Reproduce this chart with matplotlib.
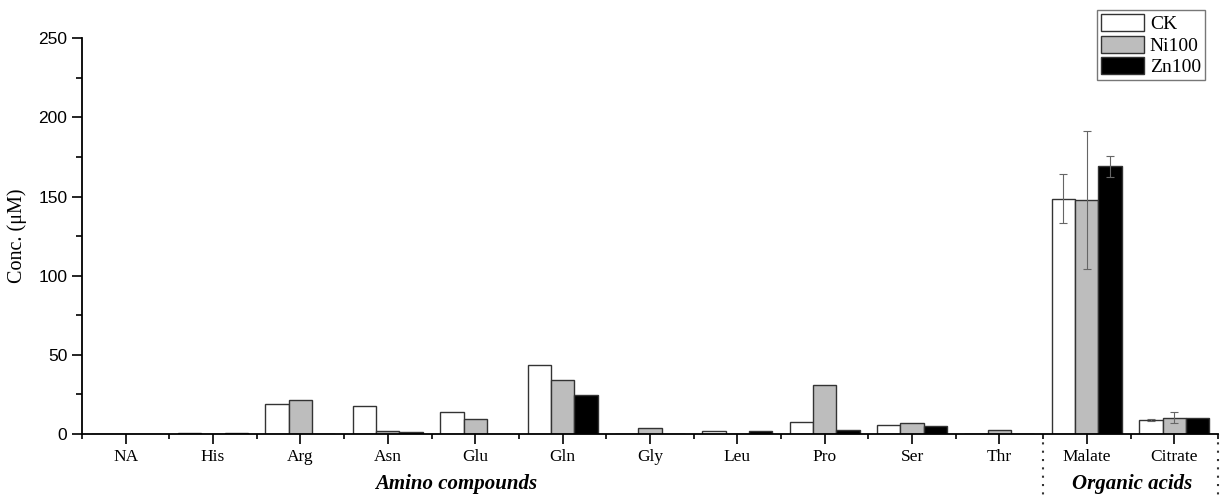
import matplotlib.pyplot as plt
import numpy as np

categories = ["NA", "His", "Arg", "Asn", "Glu", "Gln", "Gly", "Leu", "Pro", "Ser", "Thr", "Malate", "Citrate"]
ck = [0.3, 0.8, 19.0, 18.0, 14.0, 43.7, 0.3, 1.8, 7.6, 5.7, 0.3, 148.5, 8.9]
ni100 = [0.3, 0.3, 21.5, 2.0, 9.7, 34.2, 3.5, 0.3, 31.0, 6.8, 2.8, 147.9, 10.4]
zn100 = [0.3, 0.7, 0.0, 1.5, 0.3, 24.8, 0.3, 1.8, 2.5, 4.9, 0.3, 169.0, 10.3]
ck_err = [0, 0, 0, 0, 0, 0, 0, 0, 0, 0, 0, 15.5, 0.7]
ni_err = [0, 0, 0, 0, 0, 0, 0, 0, 0, 0, 0, 43.5, 3.6]
zn_err = [0, 0, 0, 0, 0, 0, 0, 0, 0, 0, 0, 6.7, 0]

serif = "Liberation Serif"
sans = "Liberation Sans"

fig = plt.figure(figsize=(12.24, 4.96), dpi=100)
ax = fig.add_axes([0.067, 0.125, 0.928, 0.798])

x = np.arange(len(categories))
w = 0.267
ekw = dict(ecolor="#666666", elinewidth=0.8, capsize=3, capthick=0.8)
series = [(ck, ck_err, "white", "CK"), (ni100, ni_err, "#bdbdbd", "Ni100"), (zn100, zn_err, "black", "Zn100")]
for i, (vals, errs, col, lab) in enumerate(series):
    ax.bar(x + (i - 1) * w, vals, w, color=col, edgecolor="#333333", linewidth=1.0, label=lab)
    idx = [k for k, e in enumerate(errs) if e > 0]
    if idx:
        ax.errorbar(x[idx] + (i - 1) * w, [vals[k] for k in idx], yerr=[errs[k] for k in idx],
                    fmt="none", **ekw)

ax.set_xlim(-0.5, 12.5)
ax.set_ylim(0, 250)
ax.set_yticks([0, 50, 100, 150, 200, 250])
ax.set_yticks([25, 75, 125, 175, 225], minor=True)
ax.set_xticks(x)
ax.set_xticks(np.arange(-0.5, 12.6, 1), minor=True)
ax.set_xticklabels(categories, fontfamily=serif, fontsize=12.5)
for t in ax.get_yticklabels():
    t.set_fontfamily(sans)
    t.set_fontsize(12.5)
ax.tick_params(axis="both", which="major", direction="out", length=7, width=1.2)
ax.tick_params(axis="both", which="minor", direction="out", length=4, width=1.2)
ax.tick_params(axis="x", which="minor", length=3.5)
for s in ["top", "right"]:
    ax.spines[s].set_visible(False)
for s in ["left", "bottom"]:
    ax.spines[s].set_linewidth(1.3)

ax.set_ylabel("Conc. (\u03bcM)", fontfamily=serif, fontsize=14.5, labelpad=8)

# group separators
for xv in [10.5, 12.5]:
    ax.plot([xv, xv], [0, -0.16], linestyle=(0, (1, 3)), color="#333333", lw=1.5, clip_on=False,
            transform=ax.get_xaxis_transform())

ax.text(3.78, -0.126, "Amino compounds", transform=ax.get_xaxis_transform(), ha="center", va="center",
        fontfamily=serif, fontsize=15, fontweight="bold", fontstyle="italic")
ax.text(11.52, -0.126, "Organic acids", transform=ax.get_xaxis_transform(), ha="center", va="center",
        fontfamily=serif, fontsize=15, fontweight="bold", fontstyle="italic")

leg = ax.legend(loc="upper right", bbox_to_anchor=(0.9885, 1.07), prop={"family": serif, "size": 14},
                frameon=True, fancybox=False, edgecolor="#555555", handlelength=2.2, handleheight=0.95,
                labelspacing=0.12, handletextpad=0.3, borderpad=0.2, borderaxespad=0)
leg.get_frame().set_linewidth(1.0)

fig.savefig("out.png", dpi=100)
